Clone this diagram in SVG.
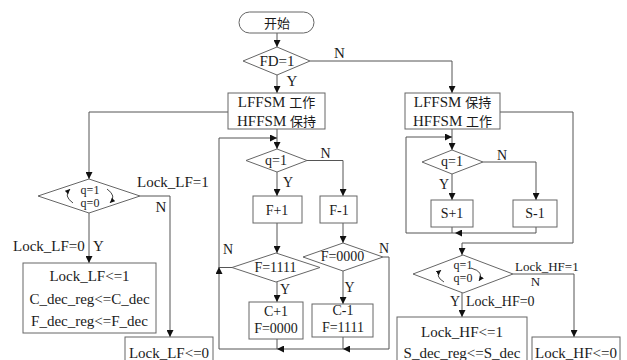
<svg xmlns="http://www.w3.org/2000/svg" width="627" height="360" viewBox="0 0 627 360" font-family="'Liberation Serif', 'Noto Sans CJK SC', serif">
<defs>
<marker id="ah" markerUnits="userSpaceOnUse" markerWidth="8" markerHeight="7" refX="7" refY="3.5" orient="auto">
<path d="M0,0 L7,3.5 L0,7 z" fill="#111"/>
</marker>
<marker id="sa" markerUnits="userSpaceOnUse" markerWidth="6" markerHeight="6" refX="5" refY="2.5" orient="auto">
<path d="M0,0 L5,2.5 L0,5 z" fill="#111"/>
</marker>
<style>
.n{fill:#fff;stroke:#666;stroke-width:1}
.c{fill:none;stroke:#555;stroke-width:1}
.a{fill:none;stroke:#555;stroke-width:1;marker-end:url(#ah)}
.s{fill:none;stroke:#333;stroke-width:0.9;marker-end:url(#sa)}
text{font-family:"Liberation Serif","Noto Sans CJK SC",serif;font-size:15px;fill:#1a1a1a}
.t{text-anchor:middle}
.m{font-size:14px}
.q{font-size:13px}
.qq{font-size:12px}
.k{font-family:"Noto Sans CJK SC","Liberation Serif",sans-serif;font-size:13px}
</style>
</defs>

<g id="connectors">
<path class="a" d="M277,33 L277,47"/>
<path class="a" d="M277,75 L277,93"/>
<path class="a" d="M310,61 L452,61 L452,93"/>
<path class="a" d="M228,112 L89,112 L89,179"/>
<path class="a" d="M140,196 L170,196 L170,337"/>
<path class="a" d="M89,213 L89,263"/>
<path class="a" d="M277,129 L277,149"/>
<path class="a" d="M277,172 L277,196"/>
<path class="a" d="M307,160.5 L343,160.5 L343,196"/>
<path class="a" d="M277,223 L277,253"/>
<path class="a" d="M343,223 L343,243"/>
<path class="a" d="M277,282 L277,302"/>
<path class="a" d="M343,271 L343,304"/>
<path class="c" d="M232,267.5 L219,267.5"/>
<path class="c" d="M277,339 L277,349"/>
<path class="c" d="M343,337 L343,349"/>
<path class="a" d="M383,257 L389,257 L389,349 L343,349"/>
<path class="a" d="M343,349 L277,349"/>
<path class="a" d="M277,349 L219,349 L219,267"/>
<path class="a" d="M219,268 L219,138 L277,138"/>
<path class="a" d="M452,129 L452,150"/>
<path class="a" d="M452,174 L452,200"/>
<path class="a" d="M483,162 L536,162 L536,200"/>
<path class="c" d="M452,227 L452,233"/>
<path class="a" d="M536,227 L536,233 L455,233"/>
<path class="a" d="M455,233 L406,233 L406,137 L452,137"/>
<path class="a" d="M500,112 L573,112 L573,243 L462,243 L462,255"/>
<path class="a" d="M513,274 L574,274 L574,337"/>
<path class="a" d="M462,293 L462,317"/>
</g>

<g id="start">
<rect class="n" x="239" y="12" width="75" height="21" rx="10.5"/>
<text class="k t" x="277" y="28">开始</text>
</g>

<g id="fd">
<polygon class="n" points="277,47 310,61 277,75 243,61"/>
<text class="t" x="277" y="66">FD=1</text>
</g>

<g id="lf-work">
<rect class="n" x="228" y="93" width="97" height="36"/>
<text class="t" x="276.5" y="107">LFFSM <tspan class="k">工作</tspan></text>
<text class="t" x="276.5" y="126">HFFSM <tspan class="k">保持</tspan></text>
</g>

<g id="hf-work">
<rect class="n" x="405" y="93" width="95" height="36"/>
<text class="t" x="452.5" y="107">LFFSM <tspan class="k">保持</tspan></text>
<text class="t" x="452.5" y="126">HFFSM <tspan class="k">工作</tspan></text>
</g>

<g id="lock-lf-dec">
<polygon class="n" points="89,179 140,196 89,213 38,196"/>
<text class="t qq" x="90" y="194">q=1</text>
<text class="t qq" x="90" y="206.5">q=0</text>
<path class="s" d="M73,203 Q63,196 70,189"/>
<path class="s" d="M107,189 Q117,196 110,203"/>
</g>

<g id="lock-lf-1">
<rect class="n" x="23" y="263" width="133" height="70"/>
<text class="t" x="89.5" y="281">Lock_LF&lt;=1</text>
<text class="t" x="89.5" y="304">C_dec_reg&lt;=C_dec</text>
<text class="t" x="89.5" y="326">F_dec_reg&lt;=F_dec</text>
</g>

<g id="lock-lf-0">
<rect class="n" x="125" y="337" width="88" height="30"/>
<text class="t" x="169" y="358">Lock_LF&lt;=0</text>
</g>

<g id="q-mid">
<polygon class="n" points="277,149 307,160.5 277,172 246,160.5"/>
<text class="t m" x="276" y="165">q=1</text>
</g>

<g id="f-plus">
<rect class="n" x="253" y="196" width="49" height="27"/>
<text class="t m" x="277" y="215">F+1</text>
</g>

<g id="f-minus">
<rect class="n" x="320" y="196" width="37" height="27"/>
<text class="t m" x="339" y="215">F-1</text>
</g>

<g id="f1111">
<polygon class="n" points="276,253 320,267.5 276,282 232,267.5"/>
<text class="t m" x="275.5" y="272">F=1111</text>
</g>

<g id="f0000">
<polygon class="n" points="343,243 383,257 343,271 303,257"/>
<text class="t m" x="342.5" y="261">F=0000</text>
</g>

<g id="c-plus">
<rect class="n" x="249" y="302" width="54" height="37"/>
<text class="t m" x="276" y="316">C+1</text>
<text class="t m" x="276" y="333">F=0000</text>
</g>

<g id="c-minus">
<rect class="n" x="312" y="304" width="61" height="33"/>
<text class="t m" x="343" y="315">C-1</text>
<text class="t m" x="343" y="332">F=1111</text>
</g>

<g id="q-right">
<polygon class="n" points="452,150 483,162 452,174 422,162"/>
<text class="t m" x="452" y="166">q=1</text>
</g>

<g id="s-plus">
<rect class="n" x="431" y="200" width="42" height="27"/>
<text class="t m" x="452" y="218">S+1</text>
</g>

<g id="s-minus">
<rect class="n" x="513" y="200" width="44" height="27"/>
<text class="t m" x="535" y="218">S-1</text>
</g>

<g id="lock-hf-dec">
<polygon class="n" points="463,255 513,274 463,293 413,274"/>
<text class="t qq" x="463" y="269">q=1</text>
<text class="t qq" x="463" y="281.5">q=0</text>
<path class="s" d="M444,282 Q434,276 441,270"/>
<path class="s" d="M471,268 Q485,272 479,281"/>
</g>

<g id="lock-hf-1">
<rect class="n" x="397" y="317" width="130" height="50"/>
<text class="t" x="462" y="337">Lock_HF&lt;=1</text>
<text class="t" x="462" y="358">S_dec_reg&lt;=S_dec</text>
</g>

<g id="lock-hf-0">
<rect class="n" x="532" y="337" width="88" height="30"/>
<text class="t" x="576" y="358">Lock_HF&lt;=0</text>
</g>

<g id="labels">
<text x="334" y="58">N</text>
<text class="t" x="292" y="86">Y</text>
<text x="137" y="187">Lock_LF=1</text>
<text class="t" x="161" y="212">N</text>
<text x="13" y="251">Lock_LF=0</text>
<text x="93" y="251">Y</text>
<text class="t m" x="325.5" y="158">N</text>
<text class="t m" x="288" y="187">Y</text>
<text class="t m" x="228" y="254">N</text>
<text class="t m" x="384" y="253">N</text>
<text class="t m" x="285" y="294">Y</text>
<text class="t m" x="349.5" y="292">Y</text>
<text class="t m" x="502" y="160">N</text>
<text class="t m" x="444" y="189">Y</text>
<text class="q" x="515" y="271">Lock_HF=1</text>
<text class="t q" x="535.5" y="286">N</text>
<text class="t m" x="455" y="306">Y</text>
<text class="m" x="466" y="306">Lock_HF=0</text>
</g>
</svg>
